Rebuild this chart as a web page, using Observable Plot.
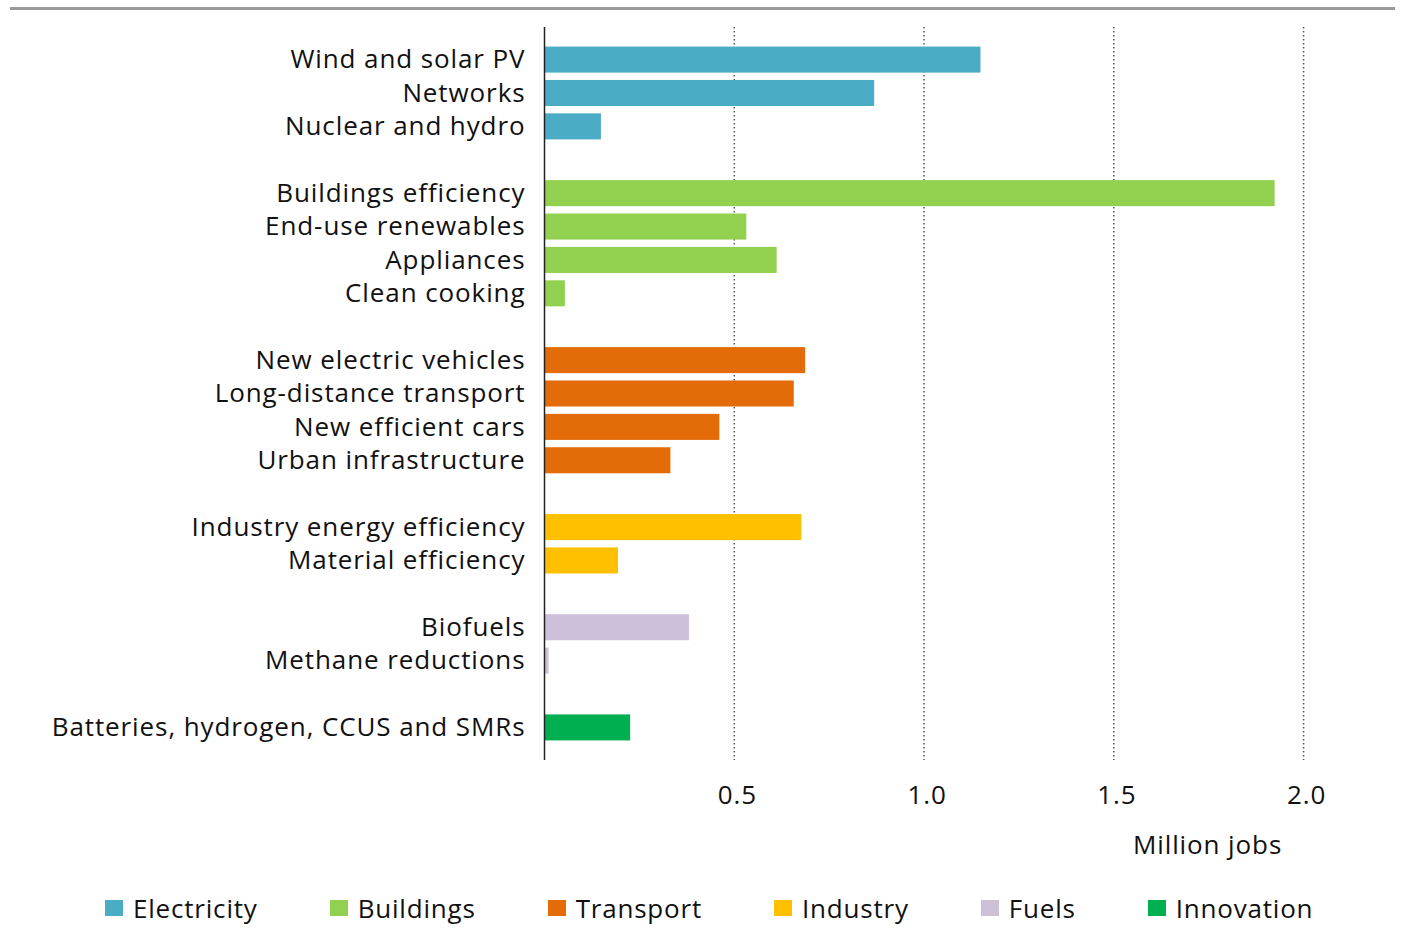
<!DOCTYPE html>
<html>
<head>
<meta charset="utf-8">
<script src="https://cdn.jsdelivr.net/npm/d3@7"></script>
<script src="https://cdn.jsdelivr.net/npm/@observablehq/plot@0.6"></script>
<style>
  html, body { margin: 0; padding: 0; background: #fff; width: 1401px; height: 929px; overflow: hidden; }
  body { position: relative; font-family: "Open Sans", sans-serif; color: #111; }
  #rule { position: absolute; left: 10px; top: 7px; width: 1385px; height: 3px; background: #9a9a9a; }
  #chart { position: absolute; left: 0; top: 0; }
  #chart svg text { letter-spacing: 0.9px; font-weight: 500; }
  #legend { position: absolute; left: 105px; top: 892px; display: flex; gap: 72px; font-size: 26px; line-height: 32px; font-weight: 500; letter-spacing: 0.8px; white-space: nowrap; }
  #legend .item { display: flex; align-items: center; }
  #legend .sw { width: 18px; height: 16px; margin-right: 10px; display: inline-block; }
</style>
</head>
<body>
<div id="rule"></div>
<div id="chart"></div>
<div id="legend"></div>
<script>
const categories = [
  "Wind and solar PV", "Networks", "Nuclear and hydro",
  "Buildings efficiency", "End-use renewables", "Appliances", "Clean cooking",
  "New electric vehicles", "Long-distance transport", "New efficient cars", "Urban infrastructure",
  "Industry energy efficiency", "Material efficiency",
  "Biofuels", "Methane reductions",
  "Batteries, hydrogen, CCUS and SMRs"
];
const categorySectors = [
  "Electricity", "Electricity", "Electricity",
  "Buildings", "Buildings", "Buildings", "Buildings",
  "Transport", "Transport", "Transport", "Transport",
  "Industry", "Industry",
  "Fuels", "Fuels",
  "Innovation"
];
const values = [1.15, 0.87, 0.15, 1.925, 0.533, 0.613, 0.055, 0.688, 0.658, 0.462, 0.333, 0.678, 0.195, 0.382, 0.012, 0.227];
const sectorNames = ["Electricity", "Buildings", "Transport", "Industry", "Fuels", "Innovation"];
const sectorColors = ["#4BACC6", "#92D050", "#E36C09", "#FFC000", "#CCC0DA", "#00B050"];
const xTicks = [0.5, 1.0, 1.5, 2.0];
const xTitle = "Million jobs";

const data = categories.map((c, i) => ({category: c, sector: categorySectors[i], value: values[i]}));

// y domain with blank spacer rows between sectors
const yDomain = [];
sectorNames.forEach((s, si) => {
  if (si > 0) yDomain.push("__gap" + si);
  categories.forEach((c, i) => { if (categorySectors[i] === s) yDomain.push(c); });
});

const fontFamily = "'Open Sans', sans-serif";

const plot = Plot.plot({
  width: 1401,
  height: 880,
  marginLeft: 544,
  marginRight: 22,
  marginTop: 27,
  marginBottom: 120,
  style: {fontFamily, fontSize: "26px", color: "#111", background: "transparent"},
  x: {domain: [0, 2.2], axis: null},
  y: {domain: yDomain, paddingInner: 0.22, paddingOuter: 0.586, round: false, axis: null},
  color: {domain: sectorNames, range: sectorColors},
  marks: [
    Plot.ruleX(xTicks, {stroke: "#555", strokeWidth: 1.5, strokeDasharray: "1.5,2.5"}),
    Plot.barX(data, {y: "category", x: "value", fill: "sector"}),
    Plot.ruleX([0], {stroke: "#222", strokeWidth: 1.5}),
    Plot.axisY({tickSize: 0, tickPadding: 19, fontSize: 26, tickFormat: d => d.startsWith("__gap") ? "" : d, label: null}),
    Plot.axisX(xTicks, {tickSize: 0, tickPadding: 25, fontSize: 26, dx: 3, tickFormat: d => d.toFixed(1), label: null}),
    Plot.text([xTitle], {x: 1.747, frameAnchor: "bottom", dy: 93, fontSize: 26})
  ]
});
document.getElementById("chart").appendChild(plot);

const legend = document.getElementById("legend");
sectorNames.forEach((s, i) => {
  const item = document.createElement("span");
  item.className = "item";
  const sw = document.createElement("span");
  sw.className = "sw";
  sw.style.background = sectorColors[i];
  item.appendChild(sw);
  item.appendChild(document.createTextNode(s));
  legend.appendChild(item);
});
</script>
</body>
</html>
